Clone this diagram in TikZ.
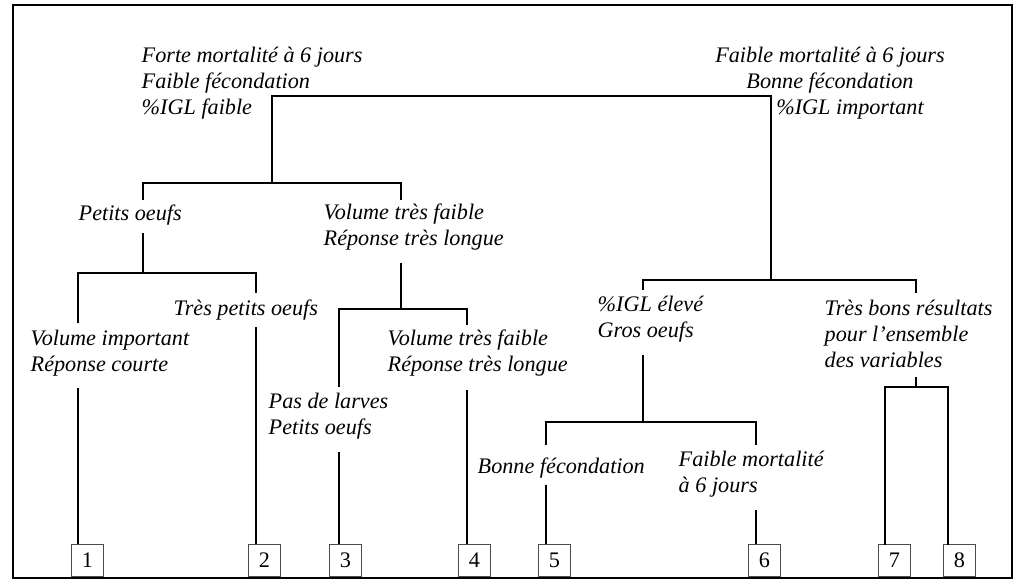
\documentclass[tikz,border=0pt]{standalone}
\usepackage{fontspec}
\setmainfont{Liberation Serif}
\begin{document}
\begin{tikzpicture}[x=0.5pt,y=-0.5pt,line width=0.7pt,
    lab/.style={font=\fontsize{11.1}{12.8}\selectfont\itshape,inner sep=0pt,align=left,anchor=base west},
    leaf/.style={draw=black!70,line width=0.4pt,minimum size=16pt,inner sep=0pt,anchor=south west,font=\fontsize{11.1}{12.8}\selectfont}]
  \useasboundingbox (0,0) rectangle (1017,579);
  \draw (13,5) rectangle (1012,578);
  % labels (placed at the baseline of their last line)
  \node[lab] (t-fm) at (141,114) {Forte mortalité à 6 jours\\Faible fécondation\\\%IGL faible};
  \node[lab,align=center,anchor=base] (t-fa) at (830,114) {Faible mortalité à 6 jours\\Bonne fécondation\\\hspace*{20pt}\%IGL important};
  \node[lab] (t-po) at (78,220) {Petits oeufs};
  \node[lab] (t-vf1) at (323,245) {Volume très faible\\Réponse très longue};
  \node[lab] (t-tp) at (173,315) {Très petits oeufs};
  \node[lab] (t-vi) at (30,371) {Volume important\\Réponse courte};
  \node[lab] (t-pl) at (268,434) {Pas de larves\\Petits oeufs};
  \node[lab] (t-vf2) at (387,371) {Volume très faible\\Réponse très longue};
  \node[lab] (t-ig) at (597,337) {\%IGL élevé\\Gros oeufs};
  \node[lab] (t-bf) at (477,473) {Bonne fécondation};
  \node[lab] (t-fj) at (678,492) {Faible mortalité\\à 6 jours};
  \node[lab] (t-tb) at (824,367) {Très bons résultats\\pour l'ensemble\\des variables};
  % leaves
  \node[leaf] (b1) at (71,577) {1};
  \node[leaf] (b2) at (248,577) {2};
  \node[leaf] (b3) at (329,577) {3};
  \node[leaf] (b4) at (458,577) {4};
  \node[leaf] (b5) at (538,577) {5};
  \node[leaf] (b6) at (748,577) {6};
  \node[leaf] (b7) at (878,577) {7};
  \node[leaf] (b8) at (943,577) {8};
  % junctions
  \coordinate (top) at (521,96);
  \coordinate (A) at (272,183); \coordinate (A-l) at (143,200); \coordinate (A-r) at (401,200);
  \coordinate (B) at (771,280); \coordinate (B-l) at (643,290); \coordinate (B-r) at (916,293);
  \coordinate (C) at (143,273); \coordinate (C-s) at (143,233);
  \coordinate (C-l) at (78,323); \coordinate (C-r) at (256,293);
  \coordinate (D) at (401,309); \coordinate (D-s) at (401,263);
  \coordinate (D-l) at (339,387); \coordinate (D-r) at (467,325);
  \coordinate (E) at (643,422); \coordinate (E-s) at (643,355);
  \coordinate (E-l) at (546,445); \coordinate (E-r) at (756,445);
  \coordinate (F) at (916,387); \coordinate (F-s) at (916,377);
  \coordinate (F-l) at (885,545); \coordinate (F-r) at (948,545);
  \coordinate (L1) at (78,388); \coordinate (L2) at (256,327);
  \coordinate (L3) at (339,452); \coordinate (L4) at (467,390);
  \coordinate (L5) at (546,485); \coordinate (L6) at (756,510);
  % brackets
  \draw (A) -- (A |- top) -- (B |- top) -- (B);
  \draw (A-l) -- (A-l |- A) -- (A-r |- A) -- (A-r);
  \draw (B-l) -- (B-l |- B) -- (B-r |- B) -- (B-r);
  \draw (C-s) -- (C); \draw (C-l) -- (C-l |- C) -- (C-r |- C) -- (C-r);
  \draw (D-s) -- (D); \draw (D-l) -- (D-l |- D) -- (D-r |- D) -- (D-r);
  \draw (E-s) -- (E); \draw (E-l) -- (E-l |- E) -- (E-r |- E) -- (E-r);
  \draw (F-s) -- (F); \draw (F-l) -- (F-l |- F) -- (F-r |- F) -- (F-r);
  % leaf lines
  \draw (L1) -- (L1 |- b1.north);
  \draw (L2) -- (L2 |- b2.north);
  \draw (L3) -- (L3 |- b3.north);
  \draw (L4) -- (L4 |- b4.north);
  \draw (L5) -- (L5 |- b5.north);
  \draw (L6) -- (L6 |- b6.north);
\end{tikzpicture}
\end{document}
